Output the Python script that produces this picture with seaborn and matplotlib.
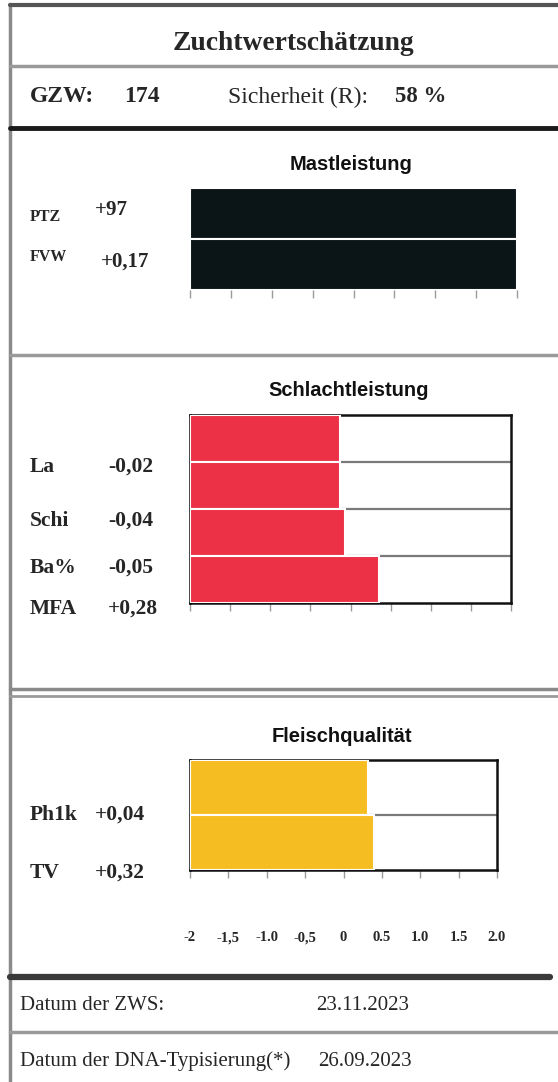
import numpy as np
import pandas as pd
import matplotlib
matplotlib.use("Agg")
import matplotlib.pyplot as plt
import seaborn as sns

W, H = 558, 1082

# Kopfdaten
titel = "Zuchtwertschätzung"
gzw = "174"
sicherheit = "58 %"
datum_zws = "23.11.2023"
datum_dna = "26.09.2023"

# Mastleistung
mast_merkmale = ["PTZ", "FVW"]
mast_werte = ["+97", "+0,17"]
mast_balken = [2.0, 2.0]          # Balken bis zum Skalenende

# Schlachtleistung
schlacht_merkmale = ["La", "Schi", "Ba%", "MFA"]
schlacht_werte = ["-0,02", "-0,04", "-0,05", "+0,28"]
schlacht_balken = [-0.13, -0.13, -0.07, 0.36]

# Fleischqualität
fleisch_merkmale = ["Ph1k", "TV"]
fleisch_werte = ["+0,04", "+0,32"]
fleisch_balken = [0.32, 0.40]

skala = [-2, -1.5, -1, -0.5, 0, 0.5, 1, 1.5, 2]
skala_labels = ["-2", "-1,5", "-1.0", "-0,5", "0", "0.5", "1.0", "1.5", "2.0"]

sns.set_theme(style="white")
plt.rcParams['font.family'] = ['Liberation Serif', 'DejaVu Serif']

SERIF = ['Liberation Serif', 'DejaVu Serif']
SANS = ['Liberation Sans', 'DejaVu Sans']
TXT = '#262626'

fig = plt.figure(figsize=(W / 100, H / 100), dpi=100)

# Hintergrund-Achse in Pixelkoordinaten für Linien und Texte
bg = fig.add_axes([0, 0, 1, 1])
bg.set_xlim(0, W)
bg.set_ylim(H, 0)
bg.axis('off')

# Rahmen und Trennlinien
bg.plot([10, 10], [4, H], color='#8a8a8a', lw=2.5)
bg.plot([10, W], [5, 5], color='#555555', lw=3)
bg.plot([10, W], [66, 66], color='#9a9a9a', lw=2.5)
bg.plot([10, W], [128, 128], color='#1a1a1a', lw=3.5)
bg.plot([10, W], [355, 355], color='#9a9a9a', lw=2.5)
bg.plot([10, W], [689, 689], color='#8a8a8a', lw=2.5)
bg.plot([10, W], [696, 696], color='#9a9a9a', lw=2)
bg.plot([10, 550], [977, 977], color='#3a3a3a', lw=4.5)
bg.plot([10, W], [1032, 1032], color='#9a9a9a', lw=2.5)

# Kopf
bg.text(293, 43, titel, ha='center', va='center', fontsize=19.8,
        fontweight='bold', family=SERIF, color=TXT)
bg.text(30, 97, "GZW:", ha='left', va='center', fontsize=17,
        fontweight='bold', family=SERIF, color=TXT)
bg.text(124, 97, gzw, ha='left', va='center', fontsize=17,
        fontweight='bold', family=SERIF, color=TXT)
bg.text(228, 97, "Sicherheit (R):", ha='left', va='center', fontsize=17,
        family=SERIF, color=TXT)
bg.text(395, 97, sicherheit, ha='left', va='center', fontsize=16.5,
        fontweight='bold', family=SERIF, color=TXT)

# Fuß
bg.text(20, 1005, "Datum der ZWS:", ha='left', va='center', fontsize=15,
        family=SERIF, color=TXT)
bg.text(316, 1005, datum_zws, ha='left', va='center', fontsize=15,
        family=SERIF, color=TXT)
bg.text(20, 1061, "Datum der DNA-Typisierung(*)", ha='left', va='center',
        fontsize=15, family=SERIF, color=TXT)
bg.text(318, 1061, datum_dna, ha='left', va='center', fontsize=15,
        family=SERIF, color=TXT)


def balken(box, titel_txt, merkmale, werte, farbe, rahmen=True, gitter=True):
    x0, y0, x1, y1 = box
    ax = fig.add_axes([x0 / W, 1 - y1 / H, (x1 - x0) / W, (y1 - y0) / H])
    df = pd.DataFrame({"Merkmal": merkmale,
                       "Laenge": np.array(werte) - skala[0]})
    sns.barplot(data=df, x="Laenge", y="Merkmal", color=farbe, width=1.0,
                saturation=1, edgecolor='white', linewidth=1.5, ax=ax,
                zorder=3)
    ax.set_xlim(0, skala[-1] - skala[0])
    ax.set_ylim(len(merkmale) - 0.5, -0.5)
    ax.set_xticks(np.array(skala) - skala[0])
    ax.set_xticklabels([])
    ax.set_yticks([])
    ax.set_xlabel('')
    ax.set_ylabel('')
    if gitter:
        ax.set_yticks(np.arange(len(merkmale) - 1) + 0.5, minor=True)
        ax.grid(axis='y', which='minor', color='#7a7a7a', lw=1.6)
        ax.tick_params(axis='y', which='minor', length=0)
    ax.tick_params(axis='x', bottom=True, direction='out', length=6,
                   width=1, color='#9a9a9a', pad=2)
    for s in ax.spines.values():
        s.set_color('#111111')
        s.set_linewidth(1.8 if rahmen else 0)
    bg.text((x0 + x1) / 2 - 2, y0 - 24, titel_txt, ha='center', va='center',
            fontsize=14.5, fontweight='bold', family=SANS, color='#111111')
    return ax


# Mastleistung
balken((190, 188, 517, 290), "Mastleistung", mast_merkmale, mast_balken,
       '#0b1416', rahmen=False, gitter=False)
for name, wert, y_name, y_wert, x_wert in zip(mast_merkmale, mast_werte,
                                              [217, 257], [210, 262], [95, 101]):
    bg.text(30, y_name, name, ha='left', va='center', fontsize=11.5,
            fontweight='bold', family=SERIF, color=TXT)
    bg.text(x_wert, y_wert, wert, ha='left', va='center', fontsize=15,
            fontweight='bold', family=SERIF, color=TXT)

# Schlachtleistung
balken((190, 415, 511, 603), "Schlachtleistung", schlacht_merkmale,
       schlacht_balken, '#ec3045')
for name, wert, y in zip(schlacht_merkmale, schlacht_werte,
                         [467, 521, 568, 609]):
    bg.text(30, y, name, ha='left', va='center', fontsize=15.5,
            fontweight='bold', family=SERIF, color=TXT)
    bg.text(108, y, wert, ha='left', va='center', fontsize=15.5,
            fontweight='bold', family=SERIF, color=TXT)

# Fleischqualität
ax3 = balken((190, 760, 497, 870), "Fleischqualität", fleisch_merkmale,
             fleisch_balken, '#f6bd22')
ax3.set_xticklabels(skala_labels, fontsize=10.5, fontweight='bold',
                    family=SERIF, color=TXT)
ax3.tick_params(axis='x', pad=38)
for name, wert, y in zip(fleisch_merkmale, fleisch_werte, [815, 873]):
    bg.text(30, y, name, ha='left', va='center', fontsize=15.5,
            fontweight='bold', family=SERIF, color=TXT)
    bg.text(95, y, wert, ha='left', va='center', fontsize=15.5,
            fontweight='bold', family=SERIF, color=TXT)

fig.savefig("out.png", dpi=100, facecolor='white')
